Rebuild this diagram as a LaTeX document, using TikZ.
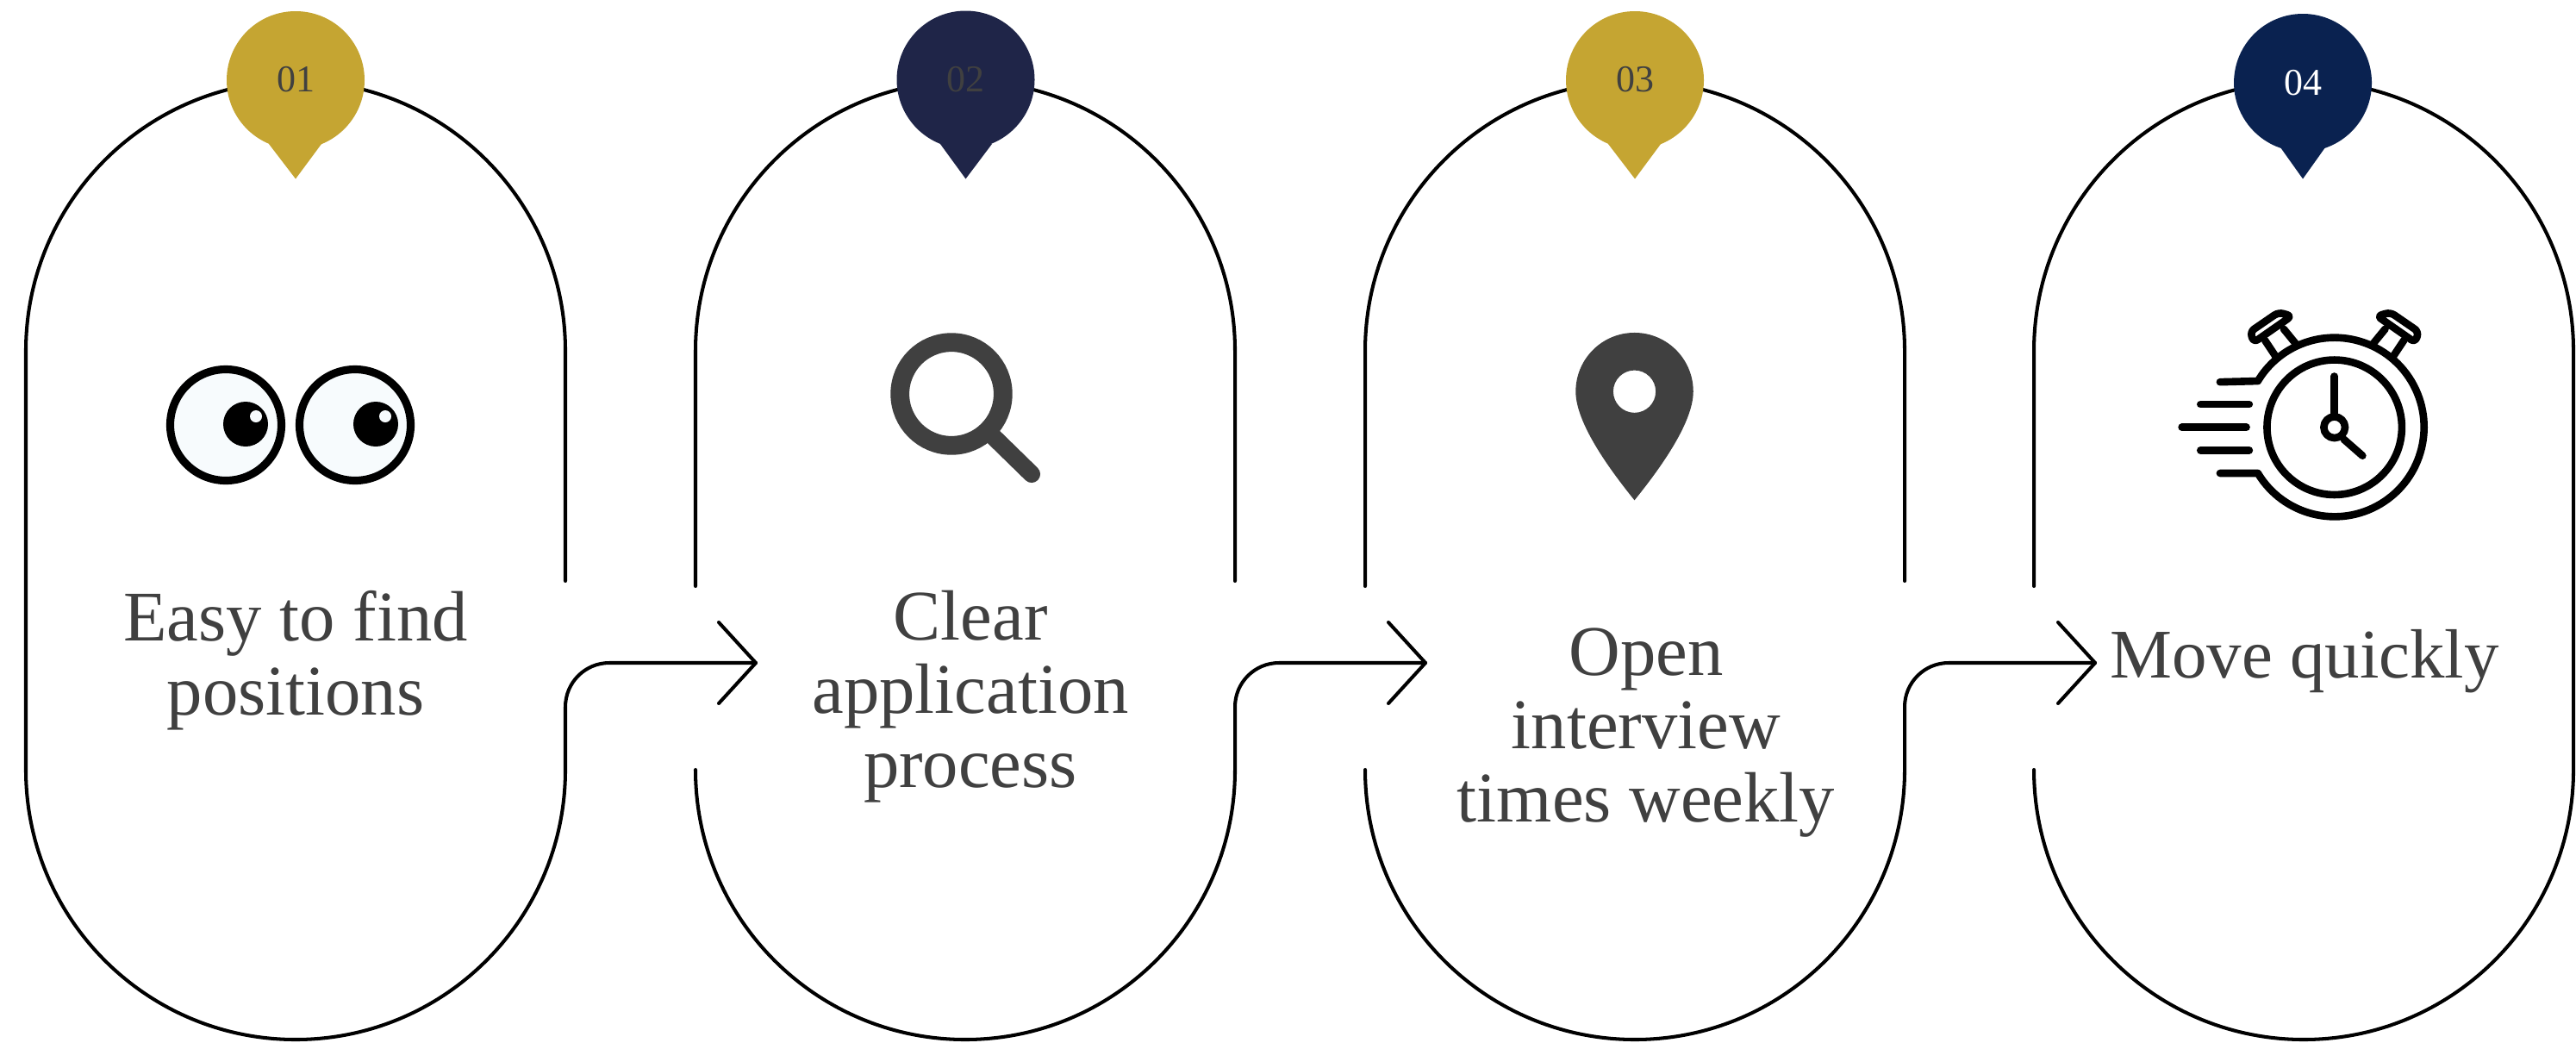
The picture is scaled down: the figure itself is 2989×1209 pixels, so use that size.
\documentclass[tikz,border=0pt]{standalone}
\usepackage{fontspec}
\setmainfont{Liberation Serif}
\definecolor{gold}{HTML}{C5A532}
\definecolor{navyA}{HTML}{1F2548}
\definecolor{navyB}{HTML}{0A2250}
\definecolor{ink}{HTML}{404040}
\definecolor{eyewhite}{HTML}{F7FBFD}
\tikzset{
  outline/.style={line width=1.15pt,black,line cap=round,line join=round},
  numlabel/.style={font=\fontsize{12.5}{15}\selectfont,inner sep=0pt,text=ink},
  bodytext/.style={font=\fontsize{23.5}{24.3}\selectfont,align=center,inner sep=0pt,text=ink},
  watch/.style={line width=2.45pt,black,line cap=round,line join=round},
  zoomed/.style={x=0.0033333cm,y=-0.0033333cm}
}
\begin{document}
\begin{tikzpicture}[x=0.01cm,y=-0.01cm]
\useasboundingbox[fill=white] (0,0) rectangle (2989,1209);
% capsule anchor points
\foreach \n/\L/\R in {1/30/656,2/807/1433,3/1584/2210,4/2360/2986}{
  \coordinate (tl\n) at (\L,407);
  \coordinate (tr\n) at (\R,407);
  \coordinate (bl\n) at (\L,893);
  \coordinate (br\n) at (\R,893);
  \coordinate (re\n) at (\R,674);
  \coordinate (le\n) at (\L,680);
  \coordinate (ls\n) at (\L,894);
  \coordinate (rc\n) at (\R,820);
}
% arrow tips
\foreach \n/\T in {1/877,2/1654,3/2431}{
  \coordinate (tip\n) at (\T,769);
  \coordinate (hu\n) at (\T-43,722);
  \coordinate (hd\n) at (\T-43,816);
}
% capsule 1
\draw[outline] (re1) -- (tr1) arc[start angle=0,end angle=-180,radius=313] -- (bl1)
  arc[start angle=180,end angle=0,radius=313] -- (rc1)
  arc[start angle=180,end angle=270,radius=51] -- (tip1);
% capsules 2 and 3
\foreach \n in {2,3}{
  \draw[outline] (re\n) -- (tr\n) arc[start angle=0,end angle=-180,radius=313] -- (le\n);
  \draw[outline] (ls\n) -- (bl\n) arc[start angle=180,end angle=0,radius=313] -- (rc\n)
    arc[start angle=180,end angle=270,radius=51] -- (tip\n);
}
% capsule 4
\draw[outline] (le4) -- (tl4) arc[start angle=180,end angle=360,radius=313] -- (br4)
  arc[start angle=0,end angle=180,radius=313] -- (ls4);
% arrow heads
\foreach \n in {1,2,3}{
  \draw[outline] (hu\n) -- (tip\n) -- (hd\n);
}
% pins
\fill[gold] (343,93) circle[radius=80];
\fill[gold] (312,167) -- (343,207.5) -- (373,167) -- cycle;
\fill[navyA] (1120.5,92.5) circle[radius=80];
\fill[navyA] (1091,167) -- (1120.5,207.5) -- (1151,167) -- cycle;
\fill[gold] (1897,93) circle[radius=80];
\fill[gold] (1866,167) -- (1897,207.5) -- (1927,167) -- cycle;
\fill[navyB] (2672,96) circle[radius=80];
\fill[navyB] (2646,171) -- (2672,207.5) -- (2698,171) -- cycle;
\node[numlabel] (n1) at (343,92.5) {01};
\node[numlabel] (n2) at (1120.5,92.5) {02};
\node[numlabel] (n3) at (1897,92.5) {03};
\node[numlabel,text=white] (n4) at (2672,96) {04};
% body text
\node[bodytext] (t1) at (343,766) {Easy to find\\positions};
\node[bodytext] (t2) at (1126,808) {Clear\\application\\process};
\node[bodytext] (t3) at (1910,850) {Open\\interview\\times weekly};
\node[bodytext,font=\fontsize{23}{24.3}\selectfont] (t4) at (2674,767) {Move quickly};
% eyes
\foreach \c/\p/\h in {262/285/297,412/436/447}{
  \draw[fill=eyewhite,draw=black,line width=2.6pt] (\c,493) circle[radius=64.5];
  \fill[black] (\p,492) circle[radius=26];
  \fill[eyewhite] (\h,483) circle[radius=7];
}
% magnifier
\draw[ink,line width=6.2pt] (1104,457) circle[radius=59.8];
\draw[ink,line width=5.7pt,line cap=round] (1153,507) -- (1197,550);
% map pin
\begin{scope}[shift={(1800,370)},zoomed]
\fill[ink,even odd rule] (290,632) .. controls (220,545) and (85,370) .. (85,253)
  arc[start angle=180,end angle=360,radius=205]
  .. controls (495,370) and (360,545) .. (290,632) -- cycle
  (290,253) circle[radius=74];
\end{scope}
% stopwatch
\begin{scope}[shift={(2500,340)},zoomed]
\draw[watch] (627,468) circle[radius=235];
\draw[watch] (228,628) -- (360,628) arc[start angle=149,end angle=-149,radius=312] -- (228,310);
\draw[watch] (627,468) circle[radius=37];
\draw[watch] (627,290) -- (627,425);
\draw[watch] (660,510) -- (725,567);
\draw[watch] (160,388) -- (330,388);
\draw[watch] (95,468) -- (320,468);
\draw[watch] (160,548) -- (330,548);
\foreach \m/\s in {0/1,1254/-1}{
  \begin{scope}[shift={(\m,0)},xscale=\s]
    \draw[watch,rounded corners=1.6pt] (333,135) -- (432,67) -- (478,80) -- (346,172) -- cycle;
    \draw[watch] (385,165) -- (425,225);
    \draw[watch] (450,125) -- (495,180);
  \end{scope}
}
\end{scope}
\end{tikzpicture}
\end{document}
